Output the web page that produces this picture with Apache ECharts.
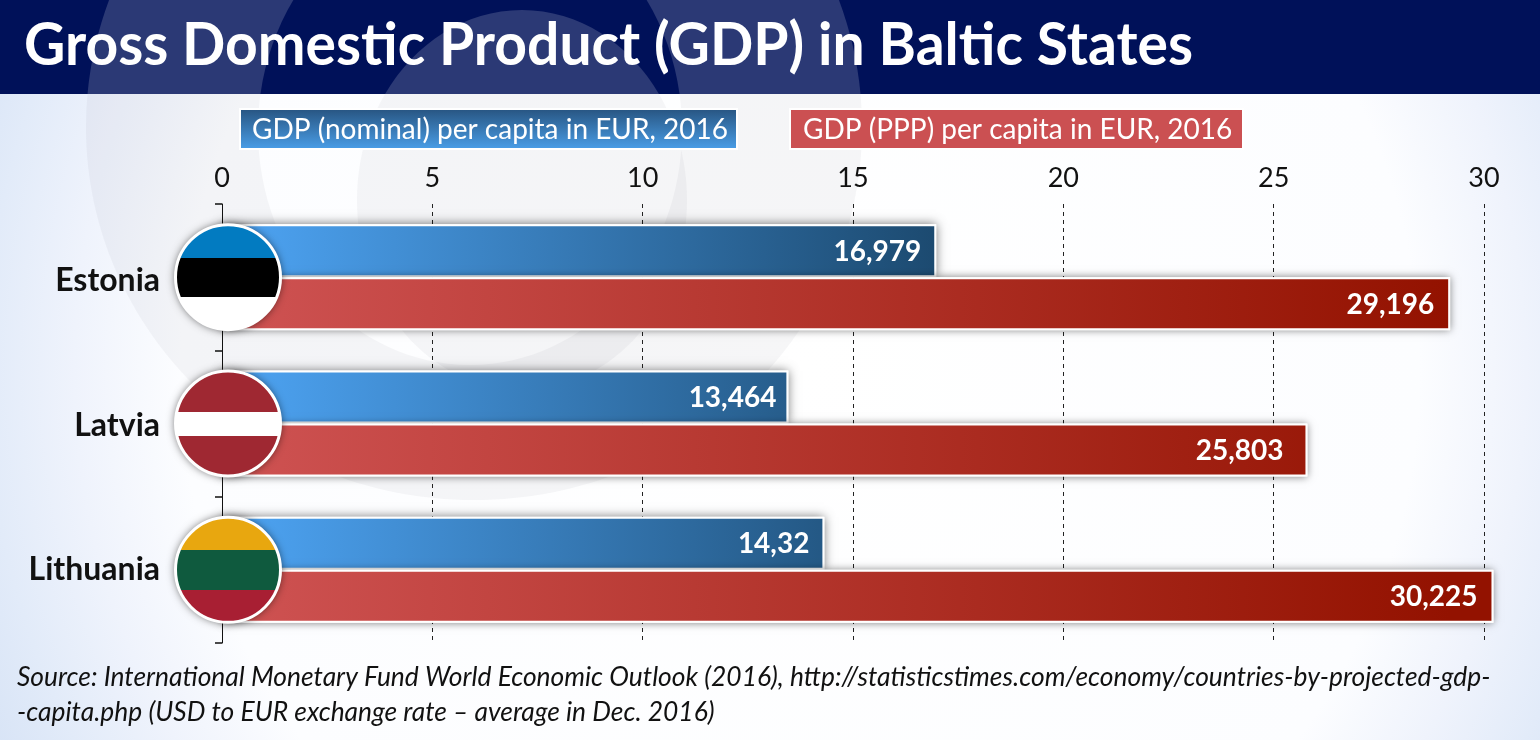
<!DOCTYPE html>
<html>
<head>
<meta charset="utf-8">
<style>html,body{margin:0;padding:0;background:#fff}#main{width:1540px;height:740px}</style>
<script src="https://cdn.jsdelivr.net/npm/echarts@6/dist/echarts.min.js"></script>
</head>
<body>
<div id="main"></div>
<script>
var countries = ['Estonia', 'Latvia', 'Lithuania'];
var nominal = [16.979, 13.464, 14.32];
var ppp = [29.196, 25.803, 30.225];
var nominalLabels = ['16,979', '13,464', '14,32'];
var pppLabels = ['29,196', '25,803', '30,225'];
var flagColors = [
    ['#027bc1', '#000000', '#ffffff'],
    ['#9f2832', '#ffffff', '#9f2832'],
    ['#e8a70f', '#0f5a3e', '#a81f33']
];
var titleText = 'Gross Domestic Product (GDP) in Baltic States';
var nominalName = 'GDP (nominal) per capita in EUR, 2016';
var pppName = 'GDP (PPP) per capita in EUR, 2016';
var sourceLines = [
    'Source: International Monetary Fund World Economic Outlook (2016), http://statisticstimes.com/economy/countries-by-projected-gdp-',
    '-capita.php (USD to EUR exchange rate \u2013 average in Dec. 2016)'
];

// styling only, not data
var flagStops = [[0.32, 0.684], [0.395, 0.615], [0.32, 0.684]];
var nominalGaps = [15, 12, 15];
var pppGaps = [16, 24, 16];
var labelShift = {Estonia: 8, Latvia: 4, Lithuania: 0};

var FONT = 'Lato, "Open Sans", sans-serif';

// bars share one gradient across the page, short bars stop part way along it
function barGrad(x1, a, b) {
    return new echarts.graphic.LinearGradient(222, 0, x1, 0, [{offset: 0, color: a}, {offset: 1, color: b}], true);
}
function vGrad(a, b) {
    return new echarts.graphic.LinearGradient(0, 0, 0, 1, [{offset: 0, color: a}, {offset: 1, color: b}]);
}
// hard colour stops, gives the three flag stripes inside a circle
function flagFill(c, s) {
    return new echarts.graphic.LinearGradient(0, 0, 0, 1, [
        {offset: 0, color: c[0]}, {offset: s[0], color: c[0]},
        {offset: s[0], color: c[1]}, {offset: s[1], color: c[1]},
        {offset: s[1], color: c[2]}, {offset: 1, color: c[2]}
    ]);
}
// page wash, absolute coords so the logo hole can repaint it exactly
function wash() {
    return new echarts.graphic.RadialGradient(800, 370, 885, [
        {offset: 0, color: '#ffffff'}, {offset: 0.7, color: '#fcfdff'},
        {offset: 0.82, color: '#eff3fc'}, {offset: 0.92, color: '#e2ebf9'},
        {offset: 1, color: '#d8e4f6'}
    ], true);
}
function barData(values, gaps) {
    return values.map(function (v, i) {
        return {value: v, label: {distance: gaps[i]}};
    });
}
function logoShapes(ringFill, holeFill, z, clip) {
    return [
        {shape: {cx: 474, cy: 127, rx: 388, ry: 373}, style: {fill: ringFill}},
        {shape: {cx: 470, cy: 130, rx: 212, ry: 235}, style: {fill: holeFill}},
        {shape: {cx: 522, cy: 200, rx: 165, ry: 190}, style: {fill: ringFill}}
    ].map(function (o, i) {
        o.type = 'ellipse';
        o.z = z + i;
        if (clip) o.clipPath = {type: 'rect', shape: {x: 0, y: 0, width: 1540, height: 94}};
        return o;
    });
}
// shadow sits on its own bar below the real one, else the border shadow falls on the fill
function shadowBar(values, z, blur, alpha) {
    return {
        type: 'bar',
        xAxisIndex: 1,
        yAxisIndex: 1,
        data: values,
        barWidth: 53,
        barGap: '0%',
        clip: false,
        silent: true,
        z: z,
        itemStyle: {color: '#fff', shadowBlur: blur, shadowColor: 'rgba(0,0,0,' + alpha + ')'}
    };
}

var myChart = echarts.init(document.getElementById('main'), null, {renderer: 'canvas'});

var labelRich = {};
countries.forEach(function (c) {
    labelRich[c] = {fontFamily: FONT, fontSize: 32, fontWeight: 'bold', color: '#111', padding: [labelShift[c], 0, 0, 0]};
});

var graphics = [
    {type: 'rect', z: -20, shape: {x: 0, y: 0, width: 1540, height: 740}, style: {fill: wash()}}
].concat(
    logoShapes('rgba(110,110,120,0.06)', wash(), -19, false),
    [{type: 'rect', z: -15, shape: {x: 0, y: 0, width: 1540, height: 94}, style: {fill: '#001159'}}],
    logoShapes('rgba(255,255,255,0.17)', '#001159', -14, true),
    [
        {type: 'text', z: 5, x: 24, y: 46, scaleX: 0.95,
            style: {x: 0, y: 0, text: titleText, fill: '#fff', font: 'bold 60px ' + FONT, textVerticalAlign: 'middle'}},
        // legend boxes
        {type: 'rect', z: 5, shape: {x: 240, y: 109, width: 497, height: 40},
            style: {fill: vGrad('#27537f', '#4a9fe9'), stroke: '#fff', lineWidth: 2}},
        {type: 'text', z: 6, style: {x: 252, y: 130, text: nominalName, fill: '#fff', font: '28px ' + FONT, textVerticalAlign: 'middle'}},
        {type: 'rect', z: 5, shape: {x: 790, y: 109, width: 453, height: 40},
            style: {fill: '#cb5052', stroke: '#fff', lineWidth: 2}},
        {type: 'text', z: 6, style: {x: 803, y: 130, text: pppName, fill: '#fff', font: '28px ' + FONT, textVerticalAlign: 'middle'}},
        // source
        {type: 'text', z: 5, style: {x: 17, y: 677, text: sourceLines[0], fill: '#111', font: 'italic 26.4px ' + FONT, textVerticalAlign: 'middle'}},
        {type: 'text', z: 5, style: {x: 17, y: 712, text: sourceLines[1], fill: '#111', font: 'italic 26.4px ' + FONT, textVerticalAlign: 'middle'}}
    ]
);

var option = {
    animation: false,
    backgroundColor: '#ffffff',
    textStyle: {fontFamily: FONT},
    grid: {left: 222, right: 56, top: 204, bottom: 97},
    xAxis: [
        {
            type: 'value',
            position: 'top',
            min: 0,
            max: 30,
            interval: 5,
            axisLine: {show: false},
            axisTick: {show: false},
            axisLabel: {fontFamily: FONT, fontSize: 27, color: '#111', margin: 12},
            splitLine: {show: true, lineStyle: {color: '#222', width: 1, type: [4, 4]}}
        },
        {type: 'value', show: false, min: 0, max: 30, splitLine: {show: false}}
    ],
    yAxis: [
        {
            type: 'category',
            inverse: true,
            data: countries,
            axisLine: {lineStyle: {color: '#111', width: 1}},
            axisTick: {show: true, alignWithLabel: false, inside: false, length: 7, lineStyle: {color: '#111', width: 1.5}},
            axisLabel: {
                margin: 62,
                rich: labelRich,
                formatter: function (v) { return '{' + v + '|' + v + '}'; }
            }
        },
        {type: 'category', show: false, inverse: true, data: countries}
    ],
    graphic: graphics,
    series: [
        shadowBar(nominal, 2, 10, 0.55),
        {
            name: nominalName,
            type: 'bar',
            data: barData(nominal, nominalGaps),
            barWidth: 53,
            barGap: '0%',
            clip: false,
            z: 3,
            itemStyle: {
                color: barGrad(936, '#4ea5f5', '#1c4a70'),
                borderColor: '#fff',
                borderWidth: 2
            },
            label: {
                show: true,
                position: 'insideRight',
                offset: [0, 1],
                color: '#fff',
                fontFamily: FONT,
                fontSize: 28,
                fontWeight: 'bold',
                formatter: function (p) { return nominalLabels[p.dataIndex]; }
            }
        },
        shadowBar(ppp, 4, 8, 0.5),
        {
            name: pppName,
            type: 'bar',
            data: barData(ppp, pppGaps),
            barWidth: 53,
            clip: false,
            z: 5,
            itemStyle: {
                color: barGrad(1450, '#cf5353', '#931200'),
                borderColor: '#fff',
                borderWidth: 2
            },
            label: {
                show: true,
                position: 'insideRight',
                offset: [0, 1],
                color: '#fff',
                fontFamily: FONT,
                fontSize: 28,
                fontWeight: 'bold',
                formatter: function (p) { return pppLabels[p.dataIndex]; }
            }
        },
        {
            // flag discs, anchored on the zero line of each country band
            type: 'custom',
            z: 6,
            clip: false,
            data: countries.map(function (c, i) { return [0, i]; }),
            encode: {x: 0, y: 1},
            renderItem: function (params, api) {
                var p = api.coord([api.value(0), api.value(1)]);
                var i = params.dataIndex;
                var cx = p[0] + 6;
                return {
                    type: 'group',
                    children: [
                        {
                            type: 'circle',
                            shape: {cx: cx, cy: p[1], r: 53},
                            style: {fill: '#fff', shadowBlur: 9, shadowColor: 'rgba(0,0,0,0.6)'}
                        },
                        {
                            type: 'circle',
                            shape: {cx: cx, cy: p[1], r: 52.5},
                            style: {fill: flagFill(flagColors[i], flagStops[i]), stroke: '#fff', lineWidth: 3}
                        }
                    ]
                };
            }
        }
    ]
};

myChart.setOption(option);
</script>
</body>
</html>
